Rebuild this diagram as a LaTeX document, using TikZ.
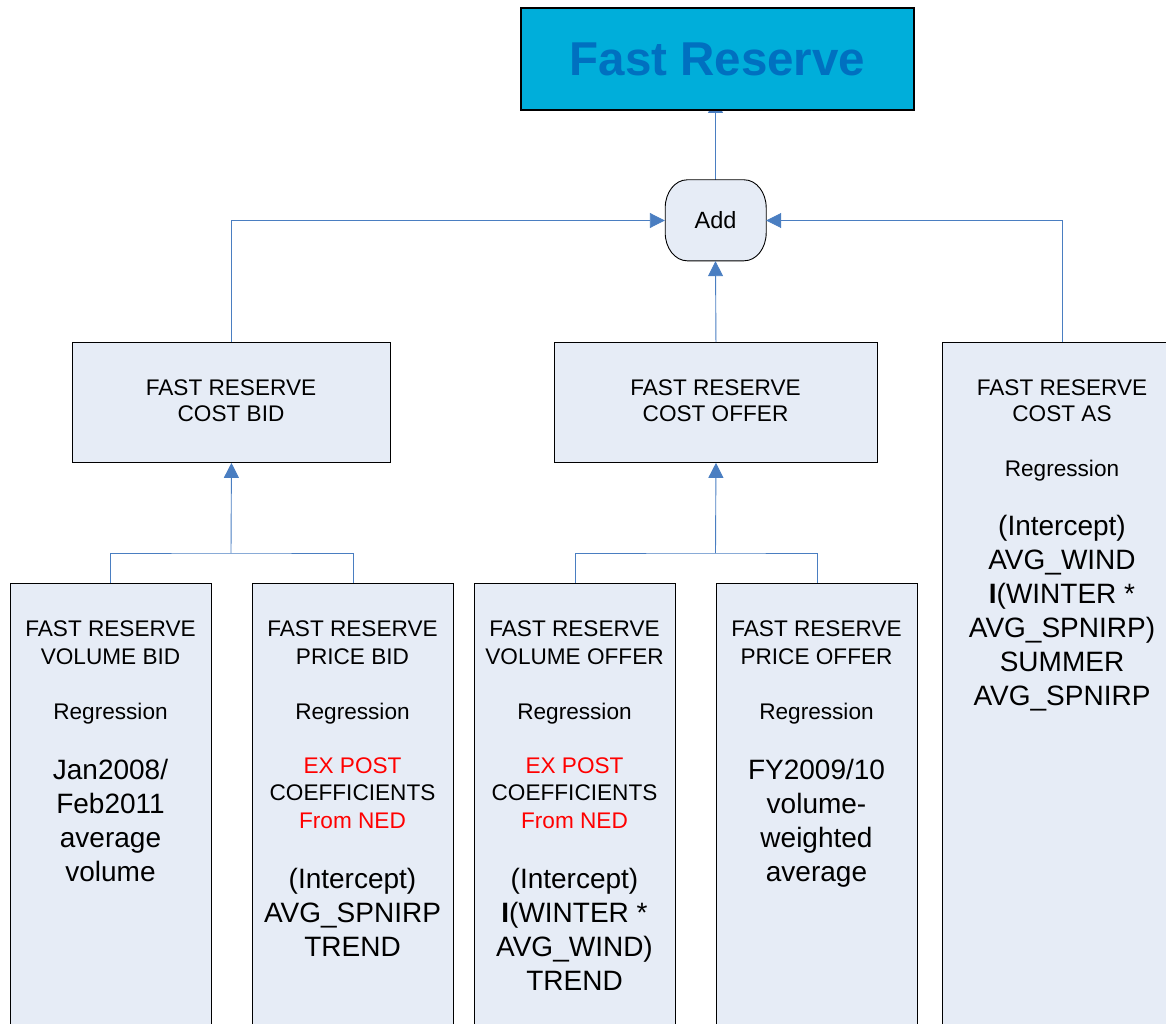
\documentclass[tikz,border=0pt]{standalone}
\usepackage{fontspec}
\setmainfont{Liberation Sans}
\usetikzlibrary{arrows.meta,backgrounds}
\definecolor{boxfill}{RGB}{230,236,246}
\definecolor{titlefill}{RGB}{0,174,218}
\definecolor{titletext}{RGB}{0,112,192}
\definecolor{linkblue}{RGB}{74,126,193}
\newcommand{\ctext}[1]{\parbox[t]{260pt}{\centering #1}}
\tikzset{
  box/.style={draw=black, line width=0.9pt, fill=boxfill, anchor=north west, inner sep=0pt},
  link/.style={draw=linkblue, line width=0.9pt},
  arr/.style={link, -{Triangle[length=15pt,width=15pt]}},
  txt/.style={anchor=base, inner sep=0pt, text=black},
  mid/.style={txt, font=\fontsize{22.6}{28}\selectfont},
  big/.style={txt, font=\fontsize{28}{34}\selectfont},
}
\begin{document}
\begin{tikzpicture}[x=1pt, y=-1pt]
\useasboundingbox (0,0) rectangle (1166,1024);
\clip (0,0) rectangle (1166,1024);

% title and Add
\node[draw=black, line width=2.4pt, fill=titlefill, inner sep=0pt,
      minimum width=393pt, minimum height=102pt,
      text=titletext, font=\bfseries\fontsize{47.5}{50}\selectfont] (title) at (717.5,59) {Fast Reserve};
\node[inner sep=0pt, minimum width=101pt, minimum height=81pt,
      font=\fontsize{23.5}{26}\selectfont] (add) at (715.5,220.5) {};
\draw[black, line width=0.9pt, fill=boxfill]
  ([xshift=22pt]add.north west) -- ([xshift=-22pt]add.north east)
  arc[start angle=90, end angle=0, x radius=22pt, y radius=28pt] -- ++(0pt,-25pt)
  arc[start angle=0, end angle=-90, x radius=22pt, y radius=28pt] -- ++(-57pt,0pt)
  arc[start angle=270, end angle=180, x radius=22pt, y radius=28pt] -- ++(0pt,25pt)
  arc[start angle=180, end angle=90, x radius=22pt, y radius=28pt] -- cycle;
\node[font=\fontsize{23.5}{26}\selectfont, inner sep=0pt] (addlbl) at (add.center) {Add};

% middle boxes
\node[box, minimum width=318pt, minimum height=120pt] (costbid) at (72,342) {};
\node[box, minimum width=323pt, minimum height=120pt] (costoffer) at (554,342) {};
\node[box, minimum width=240pt, minimum height=700pt] (costas) at (942,342) {};

% bottom boxes
\node[box, minimum width=201pt, minimum height=460pt] (volbid) at (10,583) {};
\node[box, minimum width=201pt, minimum height=460pt] (pricebid) at (252,583) {};
\node[box, minimum width=201pt, minimum height=460pt] (voloffer) at (474,583) {};
\node[box, minimum width=201pt, minimum height=460pt] (priceoffer) at (716,583) {};

% texts of middle boxes
\node[mid] (tcb) at (231,395) {\ctext{FAST RESERVE\\[-2pt]COST BID}};
\node[mid] (tco) at (715.5,395) {\ctext{FAST RESERVE\\[-2pt]COST OFFER}};
\node[mid] (tas) at (1062,395) {\ctext{FAST RESERVE\\[-2pt]COST AS\\[27.7pt]Regression}};
\node[big] (tasb) at (1062,535) {\ctext{(Intercept)\\AVG\_WIND\\\textbf{I}(WINTER *\\AVG\_SPNIRP)\\SUMMER\\AVG\_SPNIRP}};

% texts of bottom boxes
\node[mid] (tvb) at (110.5,636) {\ctext{FAST RESERVE\\VOLUME BID\\[27pt]Regression}};
\node[big] (tvbb) at (110.5,779) {\ctext{Jan2008/\\Feb2011\\average\\volume}};

\node[mid] (tpb) at (352.5,636) {\ctext{FAST RESERVE\\PRICE BID\\[27pt]Regression}};
\node[mid, font=\fontsize{22.6}{27.5}\selectfont] (tpbr) at (352.5,773.3) {\ctext{\textcolor{red}{EX POST}\\COEFFICIENTS\\\textcolor{red}{From NED}}};
\node[big] (tpbb) at (352.5,888) {\ctext{(Intercept)\\AVG\_SPNIRP\\TREND}};

\node[mid] (tvo) at (574.5,636) {\ctext{FAST RESERVE\\VOLUME OFFER\\[27pt]Regression}};
\node[mid, font=\fontsize{22.6}{27.5}\selectfont] (tvor) at (574.5,773.3) {\ctext{\textcolor{red}{EX POST}\\COEFFICIENTS\\\textcolor{red}{From NED}}};
\node[big] (tvob) at (574.5,888) {\ctext{(Intercept)\\\textbf{I}(WINTER *\\AVG\_WIND)\\TREND}};

\node[mid] (tpo) at (816.5,636) {\ctext{FAST RESERVE\\PRICE OFFER\\[27pt]Regression}};
\node[big] (tpob) at (816.5,779) {\ctext{FY2009/10\\volume-\\weighted\\average}};

% connectors
\coordinate (jb) at (231,553);
\coordinate (jo) at (715.5,553);
\coordinate (ttip) at (715.5,98);

\draw[link] (volbid.north -| 110.5,0) |- (jb) -| (pricebid.north);
\draw[arr] (jb) -- (costbid.south);
\draw[link] (voloffer.north) |- (jo) -| (priceoffer.north);
\draw[arr] (jo) -- (costoffer.south);

\draw[arr] (costbid.north) |- (add.west);
\draw[arr] (costoffer.north) -- (add.south);
\draw[arr] (costas.north -| 1062,0) |- (add.east);

\begin{pgfonlayer}{background}
\draw[arr] (add.north) -- (ttip);
\end{pgfonlayer}
\end{tikzpicture}
\end{document}
